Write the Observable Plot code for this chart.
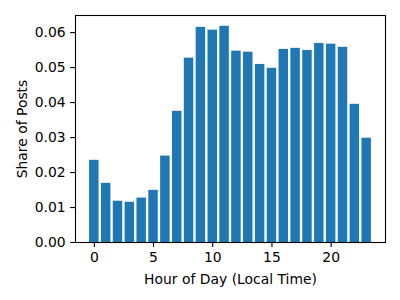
<!DOCTYPE html>
<html>
<head>
<meta charset="utf-8">
<script src="https://cdn.jsdelivr.net/npm/d3@7"></script>
<script src="https://cdn.jsdelivr.net/npm/@observablehq/plot@0.6"></script>
<style>
  html, body { margin: 0; padding: 0; background: white; }
</style>
</head>
<body>
<div id="chart"></div>
<script>
const hours = [0,1,2,3,4,5,6,7,8,9,10,11,12,13,14,15,16,17,18,19,20,21,22,23];
const shares = [0.0235,0.0169,0.0118,0.0115,0.0127,0.0149,0.0247,0.0375,0.0527,0.0615,0.0607,0.0618,0.0547,0.0544,0.0509,0.0498,0.0552,0.0555,0.0549,0.0569,0.0567,0.0558,0.0395,0.0298];
const xTicks = [0,5,10,15,20];
const yTicks = [0,0.01,0.02,0.03,0.04,0.05,0.06];

const data = hours.map((h, i) => ({hour: h, share: shares[i]}));
const maxV = d3.max(shares);
const xMin = -0.4 - 0.05 * 23.8, xMax = 23.4 + 0.05 * 23.8;

const chart = Plot.plot({
  width: 400,
  height: 300,
  marginLeft: 75,
  marginRight: 15,
  marginTop: 15,
  marginBottom: 58,
  style: {fontFamily: "DejaVu Sans", fontSize: "13.9px", background: "white", color: "black"},
  x: {type: "linear", domain: [xMin, xMax]},
  y: {type: "linear", domain: [0, maxV * 1.05]},
  marks: [
    Plot.rectY(data, {x1: d => d.hour - 0.4, x2: d => d.hour + 0.4, y1: 0, y2: "share", fill: "#1f77b4", inset: 0}),
    Plot.frame({stroke: "black", strokeWidth: 1.1}),
    Plot.axisX({ticks: xTicks, tickSize: 4.9, tickPadding: 4.9, strokeWidth: 1.1, label: "Hour of Day (Local Time)", labelAnchor: "center", labelArrow: "none", labelOffset: 41, fontSize: 13.9}),
    Plot.axisY({ticks: yTicks, tickSize: 4.9, tickPadding: 4.9, strokeWidth: 1.1, tickFormat: d3.format(".2f"), label: "Share of Posts", labelAnchor: "center", labelArrow: "none", labelOffset: 58, fontSize: 13.9})
  ]
});
document.getElementById("chart").appendChild(chart);
</script>
</body>
</html>
